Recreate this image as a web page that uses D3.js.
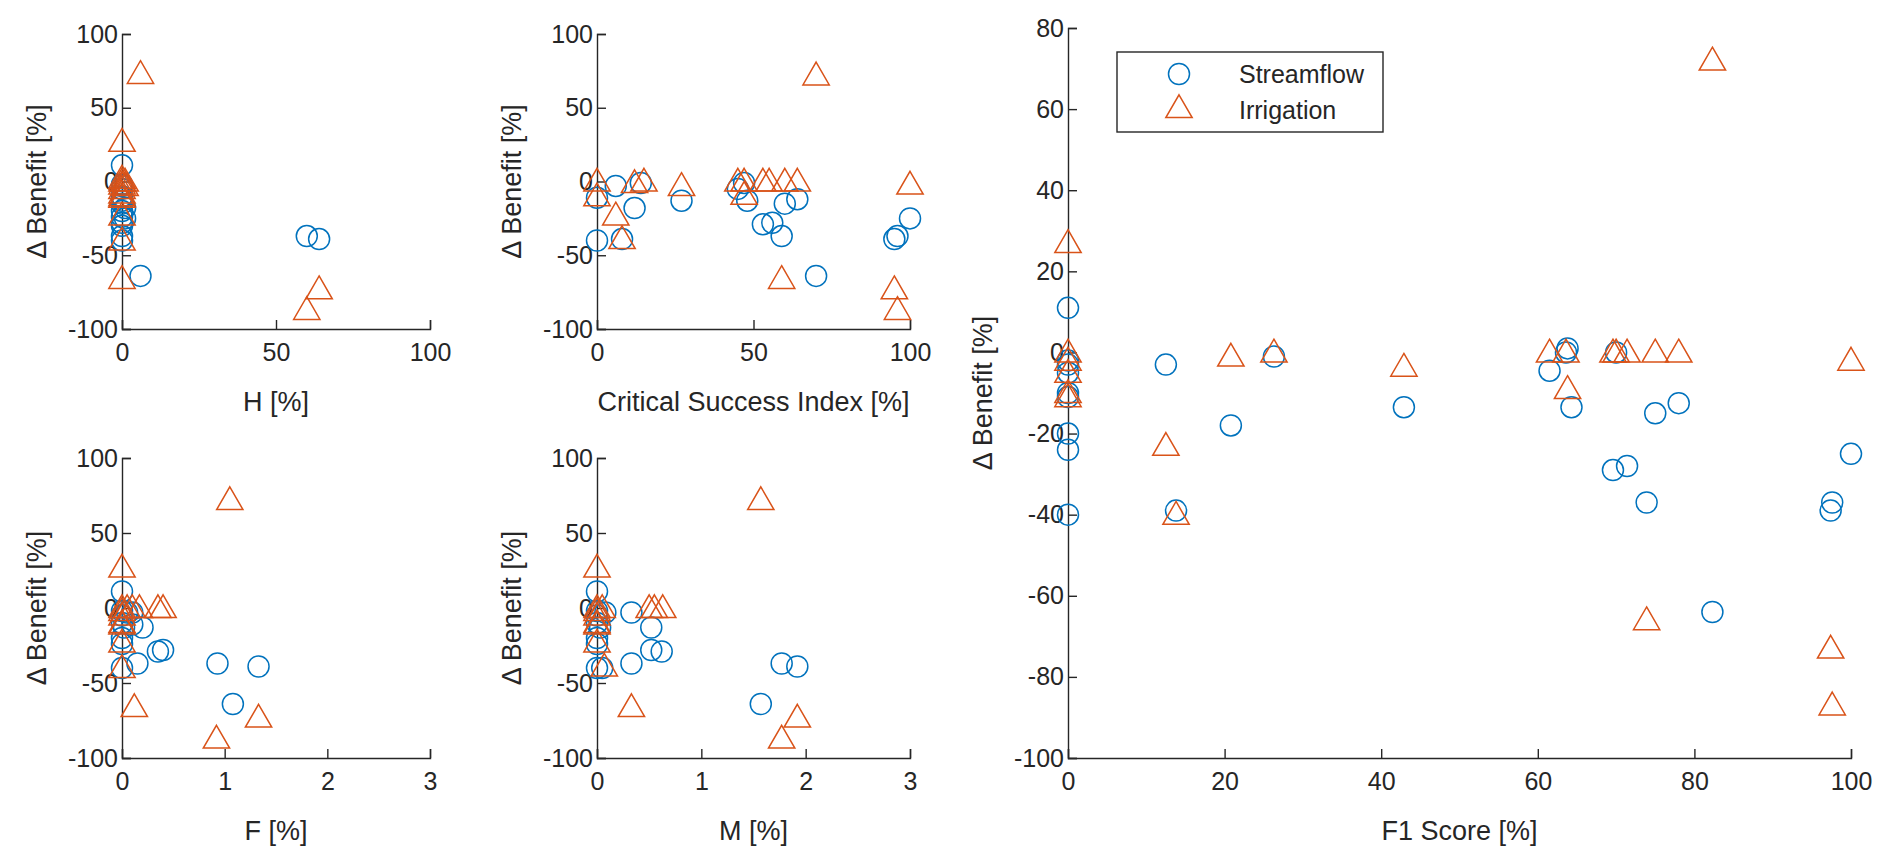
<!DOCTYPE html>
<html><head><meta charset="utf-8">
<script src="https://cdn.jsdelivr.net/npm/d3@7"></script>
<style>body{margin:0;background:#fff}text{font-family:"Liberation Sans",Arial,sans-serif;fill:#262626}</style>
</head><body><svg id="c" width="1892" height="862"></svg>
<script>
const blue = "#0072BD", orange = "#D95319";
// [x, benefit] pairs per panel
const hStream = [[0,11],[0,-2],[0,-3],[0,-5],[0,-10],[0,-11],[0,-13],[0,-15],[0,-20],[0,-24],[0,-28],[0,-30],[0,-37],[0,-40],[1,-18],[1,-25],[6,-64],[60,-37],[64,-39]];
const hIrr = [[0,27],[0,0],[0,2],[0,-2],[0,-5],[0,-8],[0,-10],[0,-11],[0,-23],[0,-40],[0,-66],[1,0],[1,-3],[6,73],[60,-87],[64,-73]];
const csiStream = [[0,-11],[0,-40],[6,-3],[8,-39],[12,-18],[14,-1],[27,-13],[45,-5],[47,-1],[48,-13],[53,-29],[56,-28],[59,-37],[60,-15],[64,-12],[70,-64],[95,-39],[96,-37],[100,-25]];
const csiIrr = [[0,0],[0,-10],[6,-23],[8,-39],[12,-1],[15,0],[27,-3],[45,0],[47,0],[47,-9],[53,0],[55,0],[60,0],[64,0],[70,72],[59,-66],[95,-73],[96,-87],[100,-2]];
const fStream = [[0,11],[0,-2],[0,-5],[0,-10],[0,-20],[0,-24],[0,-40],[0.02,-13],[0.05,-3],[0.1,-11],[0.1,-3],[0.15,-37],[0.2,-13],[0.35,-29],[0.4,-28],[0.93,-37],[1.08,-64],[1.33,-39]];
const fIrr = [[0,27],[0,0],[0,-2],[0,-5],[0,-10],[0,-11],[0,-23],[0,-40],[0.05,0],[0.1,0],[0.17,0],[0.35,0],[0.4,0],[0.12,-66],[0.92,-87],[1.05,72],[1.33,-73]];
const mStream = [[0,11],[0,-2],[0,-5],[0,-10],[0,-20],[0,-24],[0,-40],[0.03,-13],[0.05,-40],[0.08,-3],[0.33,-3],[0.33,-37],[0.52,-13],[0.52,-28],[0.62,-29],[1.57,-64],[1.77,-37],[1.92,-39]];
const mIrr = [[0,27],[0,0],[0,-2],[0,-5],[0,-10],[0,-11],[0,-23],[0.05,0],[0.07,-39],[0.33,-66],[0.5,0],[0.55,0],[0.63,0],[1.57,72],[1.77,-87],[1.92,-73]];
const f1Stream = [[0,11],[0,-2],[0,-3],[0,-5],[0,-10],[0,-11],[0,-20],[0,-24],[0,-40],[12.5,-3],[13.8,-39],[20.8,-18],[26.3,-1],[42.9,-13.5],[61.5,-4.5],[63.6,0],[63.8,1],[64.3,-13.5],[69.6,-29],[70,0],[71.4,-28],[73.9,-37],[75,-15],[78,-12.5],[82.3,-64],[97.4,-39],[97.6,-37],[100,-25]];
const f1Irr = [[0,27],[0,0],[0,-2],[0,-5],[0,-10],[0,-11],[12.5,-23],[13.8,-40],[20.8,-1],[26.3,0],[42.9,-3.5],[61.5,0],[63.6,0],[63.8,-9],[69.6,0],[70,0],[71.4,0],[73.9,-66],[75,0],[78,0],[82.3,72],[97.4,-73],[97.6,-87],[100,-2]];

const svg = d3.select("#c");
const tri = d3.symbol().type(d3.symbolTriangle).size(300);

function panel(o) {
  const x = d3.scaleLinear().domain(o.xd).range([o.x0, o.x1]);
  const y = d3.scaleLinear().domain(o.yd).range([o.y1, o.y0]);
  const g = svg.append("g");
  const xa = g.append("g").attr("transform", `translate(0,${o.y1})`)
    .call(d3.axisBottom(x).tickValues(o.xt).tickFormat(d => String(d)).tickSize(-9).tickPadding(14));
  const ya = g.append("g").attr("transform", `translate(${o.x0},0)`)
    .call(d3.axisLeft(y).tickValues(o.yt).tickFormat(d => String(d)).tickSize(-9).tickPadding(4));
  [xa, ya].forEach(a => {
    a.selectAll("path,line").attr("stroke", "#262626").attr("stroke-width", 1.4);
    a.selectAll("text").style("font-size", "25px").attr("fill", "#262626");
  });
  g.append("text").attr("x", (o.x0 + o.x1) / 2).attr("y", o.y1 + 82).attr("text-anchor", "middle")
    .style("font-size", "27px").text(o.xl);
  g.append("text").attr("transform", `translate(${o.x0 - 76},${(o.y0 + o.y1) / 2}) rotate(-90)`)
    .attr("text-anchor", "middle").style("font-size", "27px").text("\u0394 Benefit [%]");
  g.append("g").selectAll("circle").data(o.s).join("circle")
    .attr("cx", d => x(d[0])).attr("cy", d => y(d[1])).attr("r", 10.5)
    .attr("fill", "none").attr("stroke", blue).attr("stroke-width", 1.5);
  g.append("g").selectAll("path").data(o.i).join("path")
    .attr("d", tri).attr("transform", d => `translate(${x(d[0])},${y(d[1]) + 2})`)
    .attr("fill", "none").attr("stroke", orange).attr("stroke-width", 1.5);
}

const yt = [-100, -50, 0, 50, 100];
panel({x0: 122, x1: 430, y0: 34, y1: 329, xd: [0, 100], yd: [-100, 100], xt: [0, 50, 100], yt, xl: "H [%]", s: hStream, i: hIrr});
panel({x0: 597, x1: 910, y0: 34, y1: 329, xd: [0, 100], yd: [-100, 100], xt: [0, 50, 100], yt, xl: "Critical Success Index [%]", s: csiStream, i: csiIrr});
panel({x0: 122, x1: 430, y0: 458, y1: 758, xd: [0, 3], yd: [-100, 100], xt: [0, 1, 2, 3], yt, xl: "F [%]", s: fStream, i: fIrr});
panel({x0: 597, x1: 910, y0: 458, y1: 758, xd: [0, 3], yd: [-100, 100], xt: [0, 1, 2, 3], yt, xl: "M [%]", s: mStream, i: mIrr});
panel({x0: 1068, x1: 1851, y0: 28, y1: 758, xd: [0, 100], yd: [-100, 80], xt: d3.range(0, 101, 20), yt: d3.range(-100, 81, 20), xl: "F1 Score [%]", s: f1Stream, i: f1Irr});

// legend
const lg = svg.append("g").attr("transform", "translate(1117,52)");
lg.append("rect").attr("width", 266).attr("height", 80).attr("fill", "#fff").attr("stroke", "#262626").attr("stroke-width", 1.4);
lg.append("circle").attr("cx", 62).attr("cy", 22).attr("r", 10.5).attr("fill", "none").attr("stroke", blue).attr("stroke-width", 1.5);
lg.append("path").attr("d", tri).attr("transform", "translate(62,58)").attr("fill", "none").attr("stroke", orange).attr("stroke-width", 1.5);
lg.append("text").attr("x", 122).attr("y", 31).style("font-size", "25px").text("Streamflow");
lg.append("text").attr("x", 122).attr("y", 67).style("font-size", "25px").text("Irrigation");
</script></body></html>
